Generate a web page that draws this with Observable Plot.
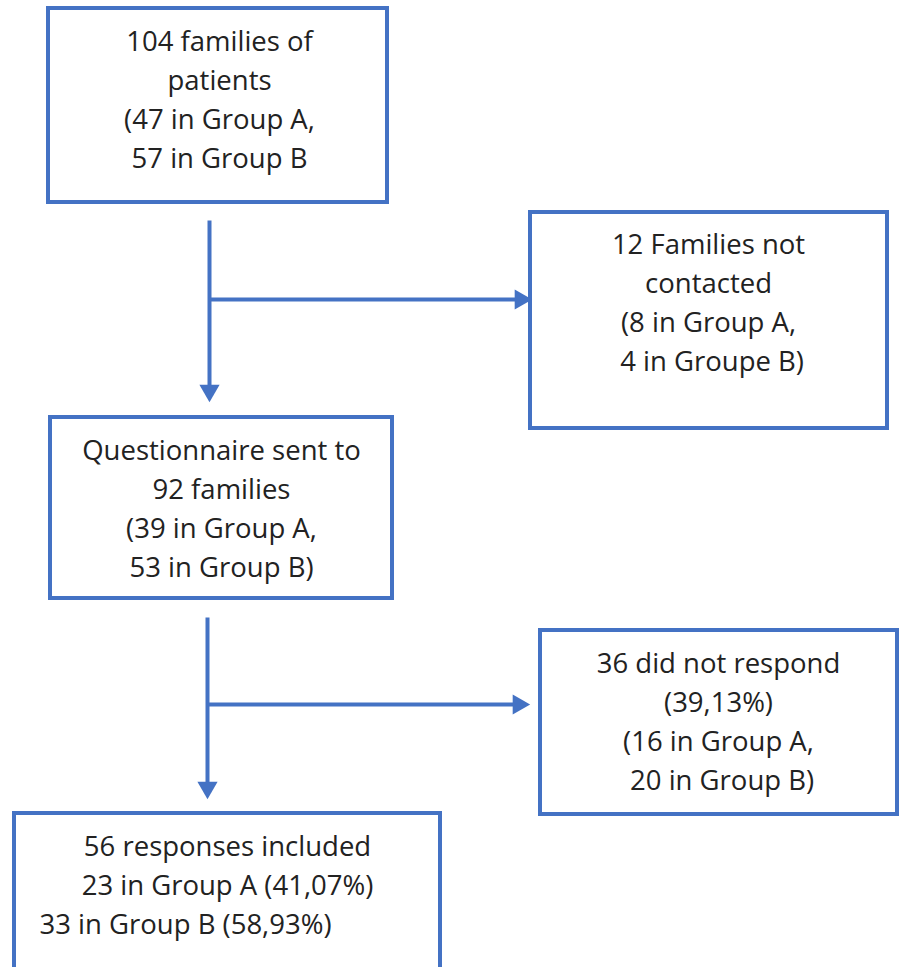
<!DOCTYPE html>
<html>
<head>
<meta charset="utf-8">
<script src="https://cdn.jsdelivr.net/npm/d3@7"></script>
<script src="https://cdn.jsdelivr.net/npm/@observablehq/plot@0.6"></script>
<style>
  html, body { margin: 0; padding: 0; background: #fff; }
  svg { display: block; }
</style>
</head>
<body>
<div id="chart"></div>
<script>
// ---- content ----
const boxLabels = [
  ["104 families of", "patients", "(47 in Group A,", "57 in Group B"],
  ["12 Families not", "contacted", "(8 in Group A,", " 4 in Groupe B)"],
  ["Questionnaire sent to", "92 families", "(39 in Group A,", "53 in Group B)"],
  ["36 did not respond", "(39,13%)", "(16 in Group A,", " 20 in Group B)"],
  ["56 responses included", "23 in Group A (41,07%)", "33 in Group B (58,93%)"]
];

// ---- layout (pixel space) ----
const boxX1 = [48, 530, 50, 540, 14];
const boxX2 = [387, 887, 392, 897, 440];
const boxY1 = [8, 212, 417, 630, 813];
const boxY2 = [202, 428, 598, 814, 990];
const textFirstY = [42, 245, 451, 664, 847];
const textCenterX = [219, 708, 221, 718, 227];
const lineOffsetX = [[0,0,0,0],[0,0,0,0],[0,0,0,0],[0,0,0,0],[0,0,-42]];
const lineStep = 39;

// connectors: [x1, y1, x2, y2, direction]
const connX1 = [209, 209, 207, 207];
const connY1 = [220, 299, 617, 704];
const connX2 = [209, 530, 207, 528];
const connY2 = [400, 299, 797, 704];
const connDir = ["down", "right", "down", "right"];

const blue = "#4472C4";
const headLen = 15;

const boxes = boxX1.map((x1, i) => ({x1, x2: boxX2[i], y1: boxY1[i], y2: boxY2[i]}));
const lines = boxLabels.flatMap((ls, i) => ls.map((t, j) => ({
  text: t, x: textCenterX[i] + lineOffsetX[i][j], y: textFirstY[i] + j * lineStep
})));
const conns = connX1.map((x1, i) => {
  const d = connDir[i];
  return {
    x1, y1: connY1[i],
    x2: d === "right" ? connX2[i] - headLen : connX2[i],
    y2: d === "down" ? connY2[i] - headLen : connY2[i],
    hx: d === "right" ? connX2[i] - 10 : connX2[i],
    hy: d === "down" ? connY2[i] - 10 : connY2[i],
    rot: d === "down" ? 180 : 90
  };
});

const chart = Plot.plot({
  width: 903,
  height: 967,
  margin: 0,
  x: {domain: [0, 903], axis: null},
  y: {domain: [0, 967], range: [0, 967], axis: null},
  style: {fontFamily: "'Open Sans', 'Noto Sans', sans-serif", background: "#fff"},
  marks: [
    Plot.rect(boxes, {x1: "x1", x2: "x2", y1: "y1", y2: "y2", fill: "#fff", stroke: blue, strokeWidth: 4}),
    Plot.link(conns, {x1: "x1", y1: "y1", x2: "x2", y2: "y2", stroke: blue, strokeWidth: 4}),
    Plot.dot(conns, {x: "hx", y: "hy", symbol: "triangle", r: 7.5, fill: blue, stroke: "none", rotate: "rot"}),
    Plot.text(lines, {x: "x", y: "y", text: "text", fontSize: 27.5, fill: "#222", textAnchor: "middle", lineAnchor: "middle"})
  ]
});
document.getElementById("chart").appendChild(chart);
</script>
</body>
</html>
